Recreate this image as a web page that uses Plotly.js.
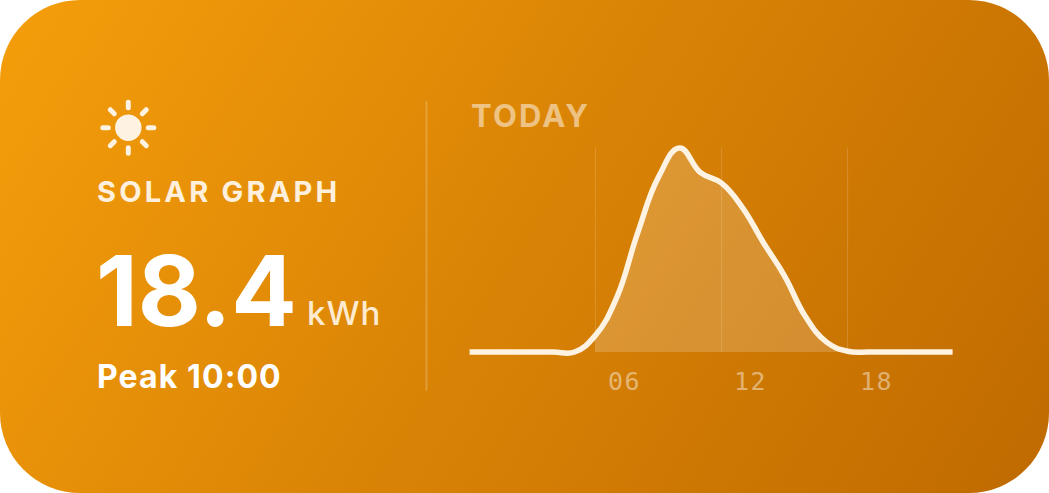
<!DOCTYPE html>
<html><head><meta charset="utf-8">
<script src="https://cdn.plot.ly/plotly-3.0.1.min.js"></script>
<style>
html,body{margin:0;padding:0;background:#fff;width:1049px;height:493px;overflow:hidden}
#card{position:absolute;left:0;top:0;width:1049px;height:493px;border-radius:80px;background:linear-gradient(122deg,#F59E0B 0%,#D98306 50%,#BF6A00 100%)}
#chart{position:absolute;left:0;top:0;width:1049px;height:493px}
.annotation[data-index="0"] text{letter-spacing:3.2px}
.annotation[data-index="2"] text{letter-spacing:1px}
.annotation[data-index="3"] text{letter-spacing:1.1px}
.annotation[data-index="4"] text{letter-spacing:2.2px}
.xtick text{letter-spacing:1.5px}
.shapelayer path{stroke-linecap:round}
</style></head><body>
<div id="card"></div><div id="chart"></div>
<script>
var hours=[0,1,2,3,4,5,6,7,8,9,10,11,12,13,14,15,16,17,18,19,20,21,22,23];
var output=[0,0,0,0,0,0,0.24,0.77,1.69,2.49,2.9,2.55,2.4,2.05,1.55,1.08,0.5,0.14,0.01,0,0,0,0,0];
var tickHours=[6,12,18];
var tickLabels=['06','12','18'];
var fillHours=hours.slice(6,19);
var fillOutput=output.slice(6,19);
var gridTop=2.9;

var W=1049,H=493,L=448,R=974,T=138,B=362,X0=469.6;
function px(x){return (x-L)/(R-L);}
function py(y){return (B-y)/(B-T);}
var ink='#FEF3E2';

var shapes=[{type:'line',xref:'paper',yref:'paper',x0:px(426.5),x1:px(426.5),y0:py(102),y1:py(390),layer:'below',line:{color:'rgba(255,255,255,0.2)',width:2}}];
tickHours.forEach(function(h){
  shapes.push({type:'line',xref:'x',yref:'y',x0:h,x1:h,y0:0,y1:gridTop,layer:'below',line:{color:'rgba(255,255,255,0.16)',width:1}});
});
var cx=128.3,cy=127.7;
shapes.push({type:'circle',xref:'paper',yref:'paper',x0:px(cx-13.2),x1:px(cx+13.2),y0:py(cy+13.2),y1:py(cy-13.2),fillcolor:ink,line:{width:0}});
[[0,-1],[0,1],[1,0],[-1,0]].forEach(function(d){
  shapes.push({type:'line',xref:'paper',yref:'paper',x0:px(cx+d[0]*20),x1:px(cx+d[0]*25.5),y0:py(cy+d[1]*20),y1:py(cy+d[1]*25.5),line:{color:ink,width:5}});
});
[[1,-1],[1,1],[-1,1],[-1,-1]].forEach(function(d){
  shapes.push({type:'line',xref:'paper',yref:'paper',x0:px(cx+d[0]*14),x1:px(cx+d[0]*18),y0:py(cy+d[1]*14),y1:py(cy+d[1]*18),line:{color:ink,width:5}});
});

function label(text,x,y,size,weight,color){
  return {text:text,xref:'paper',yref:'paper',x:px(x),y:py(y),xanchor:'left',yanchor:'middle',align:'left',showarrow:false,borderpad:0,borderwidth:0,
    font:{family:'Inter',size:size,weight:weight,color:color}};
}
var annotations=[
  label('SOLAR GRAPH',97,191,29,700,'#FEF0DC'),
  label('18.4',96,290,97,700,'#FFFFFF'),
  label('kWh',307,313,33,500,'#FEEBD0'),
  label('Peak 10:00',97,376,32,700,'#FFFFFF'),
  label('TODAY',471,116,31,700,'rgba(255,255,255,0.5)')
];

var traces=[
  {x:fillHours,y:fillOutput,type:'scatter',mode:'lines',line:{shape:'spline',smoothing:1.25,width:0},fill:'tozeroy',fillcolor:'rgba(255,255,255,0.18)',hoverinfo:'skip',showlegend:false},
  {x:hours,y:output,type:'scatter',mode:'lines',line:{shape:'spline',smoothing:1.25,width:5.5,color:ink},showlegend:false}
];
var layout={
  width:W,height:H,showlegend:false,
  margin:{l:L,r:W-R,t:T,b:H-B,pad:0},
  paper_bgcolor:'rgba(0,0,0,0)',plot_bgcolor:'rgba(0,0,0,0)',
  xaxis:{range:[(L-X0)/21,(R-X0)/21],tickmode:'array',tickvals:tickHours,ticktext:tickLabels,ticks:'',ticklabelshift:29,ticklabelstandoff:2,
    showgrid:false,zeroline:false,showline:false,
    tickfont:{family:'DejaVu Sans Mono',size:25,color:'rgba(255,255,255,0.45)'}},
  yaxis:{range:[(352-B)/(204/gridTop),(352-T)/(204/gridTop)],showgrid:false,zeroline:false,showline:false,showticklabels:false,ticks:''},
  shapes:shapes,annotations:annotations
};
Plotly.newPlot('chart',traces,layout,{displayModeBar:false,staticPlot:true});
</script></body></html>
